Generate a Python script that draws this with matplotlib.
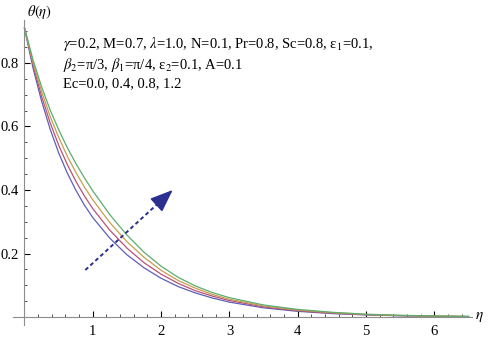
import matplotlib
matplotlib.use('Agg')
import matplotlib.pyplot as plt
from matplotlib.ticker import MultipleLocator

plt.rcParams['font.family'] = ['Liberation Serif', 'DejaVu Serif']
plt.rcParams['mathtext.fontset'] = 'stix'

# theta(eta), one list per Ec value
eta = [0.0, 0.125, 0.25, 0.375, 0.5, 0.625, 0.75, 0.875, 1.0, 1.25, 1.5, 1.75, 2.0, 2.25,
       2.5, 2.75, 3.0, 3.5, 4.0, 4.5, 5.0, 5.5, 6.0, 6.5]
theta_ec00 = [0.910, 0.784, 0.680, 0.592, 0.517, 0.454, 0.400, 0.353, 0.313, 0.248, 0.196, 0.155,
              0.122, 0.096, 0.076, 0.060, 0.047, 0.029, 0.018, 0.011, 0.0067, 0.0040, 0.0024, 0.0014]
theta_ec04 = [0.910, 0.793, 0.695, 0.612, 0.541, 0.481, 0.428, 0.382, 0.341, 0.273, 0.217, 0.171,
              0.135, 0.106, 0.083, 0.066, 0.052, 0.032, 0.020, 0.012, 0.0075, 0.0045, 0.0027, 0.0016]
theta_ec08 = [0.910, 0.801, 0.710, 0.632, 0.566, 0.507, 0.456, 0.410, 0.369, 0.297, 0.237, 0.188,
              0.147, 0.115, 0.091, 0.071, 0.056, 0.035, 0.022, 0.014, 0.0082, 0.0050, 0.0030, 0.0018]
theta_ec12 = [0.910, 0.810, 0.725, 0.652, 0.590, 0.534, 0.484, 0.439, 0.397, 0.322, 0.258, 0.204,
              0.160, 0.125, 0.098, 0.077, 0.061, 0.038, 0.024, 0.015, 0.0090, 0.0055, 0.0033, 0.0020]
curves = [theta_ec00, theta_ec04, theta_ec08, theta_ec12]
colors = [(0.37, 0.37, 0.72), (0.72, 0.32, 0.48), (0.78, 0.62, 0.30), (0.36, 0.68, 0.44)]

# arrow showing increasing Ec
arrow_tail = (0.89, 0.148)
arrow_head = (2.17, 0.40)

fig = plt.figure(figsize=(4.91, 3.38), dpi=100)
ax = fig.add_axes([13 / 491, 13 / 338, 459 / 491, 305 / 338])

for y, c in zip(curves, colors):
    ax.plot(eta, y, color=c, lw=0.9)

# dashed shaft, then a solid filled head on the last bit
arrow_col = '#2b2f8f'
f = 0.86
mid = (arrow_tail[0] + f * (arrow_head[0] - arrow_tail[0]),
       arrow_tail[1] + f * (arrow_head[1] - arrow_tail[1]))
ax.plot([arrow_tail[0], mid[0]], [arrow_tail[1], mid[1]], color=arrow_col, lw=1.4,
        linestyle=(0, (2.0, 1.5)))
ax.annotate('', xy=arrow_head, xytext=mid,
            arrowprops=dict(arrowstyle='-|>,head_length=1.4,head_width=0.55',
                            color=arrow_col, lw=1.2, shrinkA=0, shrinkB=0))

ax.set_xlim(-0.168, 6.55)
ax.set_ylim(-0.025, 0.935)

for s in ['top', 'right']:
    ax.spines[s].set_visible(False)
ax.spines['left'].set_position(('data', 0))
ax.spines['bottom'].set_position(('data', 0))
ax.spines['left'].set_color('#8c8c8c')
ax.spines['bottom'].set_color('#8c8c8c')
ax.spines['left'].set_bounds(-0.025, 0.935)
ax.spines['bottom'].set_bounds(-0.168, 6.55)

ax.xaxis.set_minor_locator(MultipleLocator(0.2))
ax.yaxis.set_minor_locator(MultipleLocator(0.05))
ax.set_xticks([1, 2, 3, 4, 5, 6])
ax.set_yticks([0.2, 0.4, 0.6, 0.8])
ax.set_yticklabels(['0.2', '0.4', '0.6', '0.8'])
ax.tick_params(which='major', direction='in', length=4, width=0.8, color='black', labelsize=10.5)
ax.tick_params(axis='x', which='major', pad=6)
ax.tick_params(axis='y', which='major', pad=4)
ax.tick_params(which='minor', direction='in', length=2.2, width=0.6, color='#333333')

ax.text(6.6, 0.0, r'$\eta$', fontsize=11, va='center', ha='left', clip_on=False)
fig.text(40 / 491, 1 - 12 / 338, r'$\theta(\eta)$', fontsize=10.5, ha='center', va='center')

txt = ('$\\gamma$=0.2, M=0.7, $\\lambda$=1.0, N=0.1, Pr=0.8, Sc=0.8, \u03b5$_1$=0.1,\n'
       '$\\beta_2$=\u03c0/3, $\\beta_1$=\u03c0/4, \u03b5$_2$=0.1, A=0.1\n'
       'Ec=0.0, 0.4, 0.8, 1.2')
fig.text(63 / 491, 1 - 35 / 338, txt, fontsize=10.5, ha='left', va='top', linespacing=1.25)

fig.savefig('out.png', dpi=100)
